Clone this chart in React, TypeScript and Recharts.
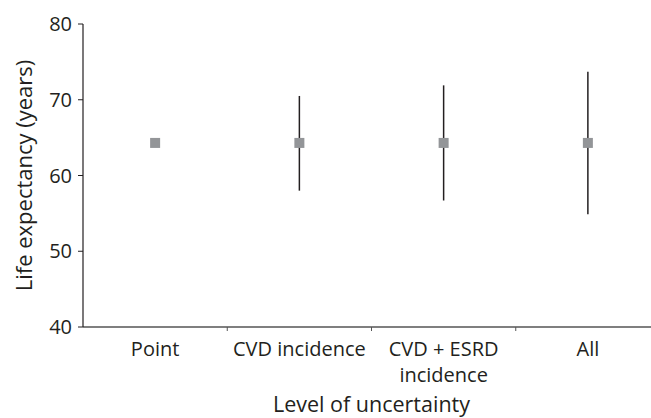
import { ScatterChart, Scatter, XAxis, YAxis, ErrorBar, Label } from 'recharts';

const categories = ['Point', 'CVD incidence', 'CVD + ESRD\nincidence', 'All'];
const lifeExpectancy = [64.3, 64.3, 64.3, 64.3];
const lower = [64.3, 58.0, 56.7, 54.9];
const upper = [64.3, 70.5, 71.9, 73.7];
const yTicks = [40, 50, 60, 70, 80];

const data = categories.map((name, i) => ({
  x: i + 0.5,
  name,
  value: lifeExpectancy[i],
  err: [lifeExpectancy[i] - lower[i], upper[i] - lifeExpectancy[i]],
}));

const xTicks = [0.5, 1, 1.5, 2, 2.5, 3, 3.5];
const FONT = '"Open Sans", "Noto Sans", sans-serif';
const TEXT = '#231f20';
const FS = 20;

function CategoryTick(props: any) {
  const { x, y, payload } = props;
  const v = payload.value as number;
  if (Number.isInteger(v)) {
    return <line x1={x} x2={x} y1={y} y2={y + 4} stroke="#555" strokeWidth={1} />;
  }
  const lines = categories[Math.floor(v)].split('\n');
  return (
    <text x={x} y={y} textAnchor="middle" fill={TEXT} fontSize={FS} fontFamily={FONT}>
      {lines.map((l, i) => (
        <tspan key={i} x={x} dy={i === 0 ? 29 : 26}>
          {l}
        </tspan>
      ))}
    </text>
  );
}

function Square(props: any) {
  const { cx, cy } = props;
  return <rect x={cx - 5} y={cy - 5} width={10} height={10} fill="#939598" />;
}

function XTitle(props: any) {
  const vb = props.viewBox;
  return (
    <text x={vb.x + vb.width / 2} y={vb.y + 85} textAnchor="middle" fill={TEXT} fontSize={21.5} fontFamily={FONT}>
      Level of uncertainty
    </text>
  );
}

function YTitle(props: any) {
  const vb = props.viewBox;
  const cx = 32;
  const cy = vb.y + vb.height / 2;
  return (
    <text x={cx} y={cy} transform={`rotate(-90 ${cx} ${cy})`} textAnchor="middle" fill={TEXT} fontSize={22} fontFamily={FONT}>
      Life expectancy (years)
    </text>
  );
}

export default function App() {
  return (
    <div style={{ position: 'absolute', left: 0, top: 0, width: 651, height: 418, overflow: 'hidden', background: '#fff' }}>
      <ScatterChart width={660} height={418} margin={{ top: 24, right: 0, bottom: 0, left: 0 }}>
        <XAxis
          type="number"
          dataKey="x"
          domain={[0, 4]}
          ticks={xTicks}
          interval={0}
          tickSize={0}
          tickMargin={0}
          tickLine={false}
          tick={<CategoryTick />}
          axisLine={{ stroke: '#555', strokeWidth: 1.5 }}
          height={91}
        >
          <Label content={<XTitle />} />
        </XAxis>
        <YAxis
          type="number"
          dataKey="value"
          domain={[40, 80]}
          ticks={yTicks}
          interval={0}
          width={83}
          tickSize={5}
          tickMargin={6}
          tickLine={{ stroke: TEXT }}
          axisLine={{ stroke: TEXT, strokeWidth: 1.2 }}
          tick={{ fill: TEXT, fontSize: FS, fontFamily: FONT }}
        >
          <Label content={<YTitle />} />
        </YAxis>
        <Scatter data={data} shape={<Square />} isAnimationActive={false}>
          <ErrorBar dataKey="err" direction="y" width={0} stroke={TEXT} strokeWidth={1.5} />
        </Scatter>
      </ScatterChart>
    </div>
  );
}
